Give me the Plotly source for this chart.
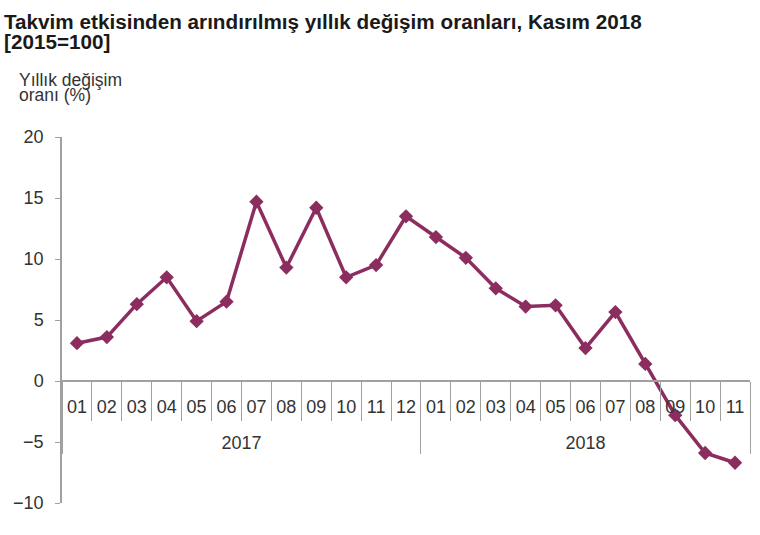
import plotly.graph_objects as go

years = ["2017"] * 12 + ["2018"] * 11
months = ["01", "02", "03", "04", "05", "06", "07", "08", "09", "10", "11", "12",
          "01", "02", "03", "04", "05", "06", "07", "08", "09", "10", "11"]
values = [3.1, 3.6, 6.3, 8.5, 4.9, 6.5, 14.7, 9.3, 14.2, 8.5, 9.5, 13.5,
          11.8, 10.1, 7.6, 6.1, 6.2, 2.7, 5.65, 1.4, -2.8, -5.9, -6.7]
y_ticks = [-10, -5, 0, 5, 10, 15, 20]

title_lines = ["Takvim etkisinden arındırılmış yıllık değişim oranları, Kasım 2018", "[2015=100]"]
ytitle_lines = ["Yıllık değişim", "oranı (%)"]

line_color = "#8c2d5f"
axis_color = "#a0a0a0"
text_color = "#333333"
font_family = "Liberation Sans, Arial, sans-serif"

W, H = 760, 535
ml, mr, mt, mb = 62, 10, 137, 32
pw, ph = W - ml - mr, H - mt - mb


def px_x(x):
    return (x - ml) / pw


def px_y(y):
    return 1 - (y - mt) / ph


# year labels drawn one line lower than the month labels (leading line break)
year_labels = ["<br>" + y for y in years]

fig = go.Figure()
fig.add_trace(go.Scatter(
    x=[year_labels, months], y=values, mode="lines+markers",
    line=dict(color=line_color, width=3.5),
    marker=dict(symbol="diamond", size=11, color=line_color),
    showlegend=False,
))

annotations = []
for i, t in enumerate(title_lines):
    annotations.append(dict(
        text="<b>" + t + "</b>", x=px_x(2), y=px_y(35 + 20 * i),
        xref="paper", yref="paper", showarrow=False,
        xanchor="left", yanchor="bottom",
        font=dict(size=20.7, color="#1a1a1a", family=font_family)))
for i, t in enumerate(ytitle_lines):
    annotations.append(dict(
        text=t, x=px_x(17), y=px_y(92 + 15 * i),
        xref="paper", yref="paper", showarrow=False,
        xanchor="left", yanchor="bottom",
        font=dict(size=17.5, color=text_color, family=font_family)))

fig.update_layout(
    width=W, height=H,
    margin=dict(l=ml, r=mr, t=mt, b=mb, autoexpand=False),
    paper_bgcolor="white", plot_bgcolor="white",
    font=dict(family=font_family, size=18, color=text_color),
    xaxis=dict(
        type="multicategory",
        range=[-0.5, len(values) - 0.5],
        anchor="free", position=1/3, automargin=False,
        showline=True, linecolor=axis_color, linewidth=1.5,
        ticks="outside", tickson="boundaries", ticklen=39,
        tickcolor=axis_color, tickwidth=1,
        showdividers=True, dividercolor=axis_color, dividerwidth=1,
        ticklabelstandoff=10, tickangle=0,
        showgrid=False, zeroline=False,
        tickfont=dict(size=18, color=text_color),
    ),
    yaxis=dict(
        range=[-10, 20], tickvals=y_ticks, automargin=False,
        showline=True, linecolor=axis_color, linewidth=1.5,
        ticks="outside", ticklen=5, tickcolor=axis_color,
        ticklabelstandoff=8,
        showgrid=False, zeroline=False,
        tickfont=dict(size=18, color=text_color),
    ),
    annotations=annotations,
)

fig.write_html("out.html", config={"displayModeBar": False},
               post_script="document.body.style.margin='0';")
